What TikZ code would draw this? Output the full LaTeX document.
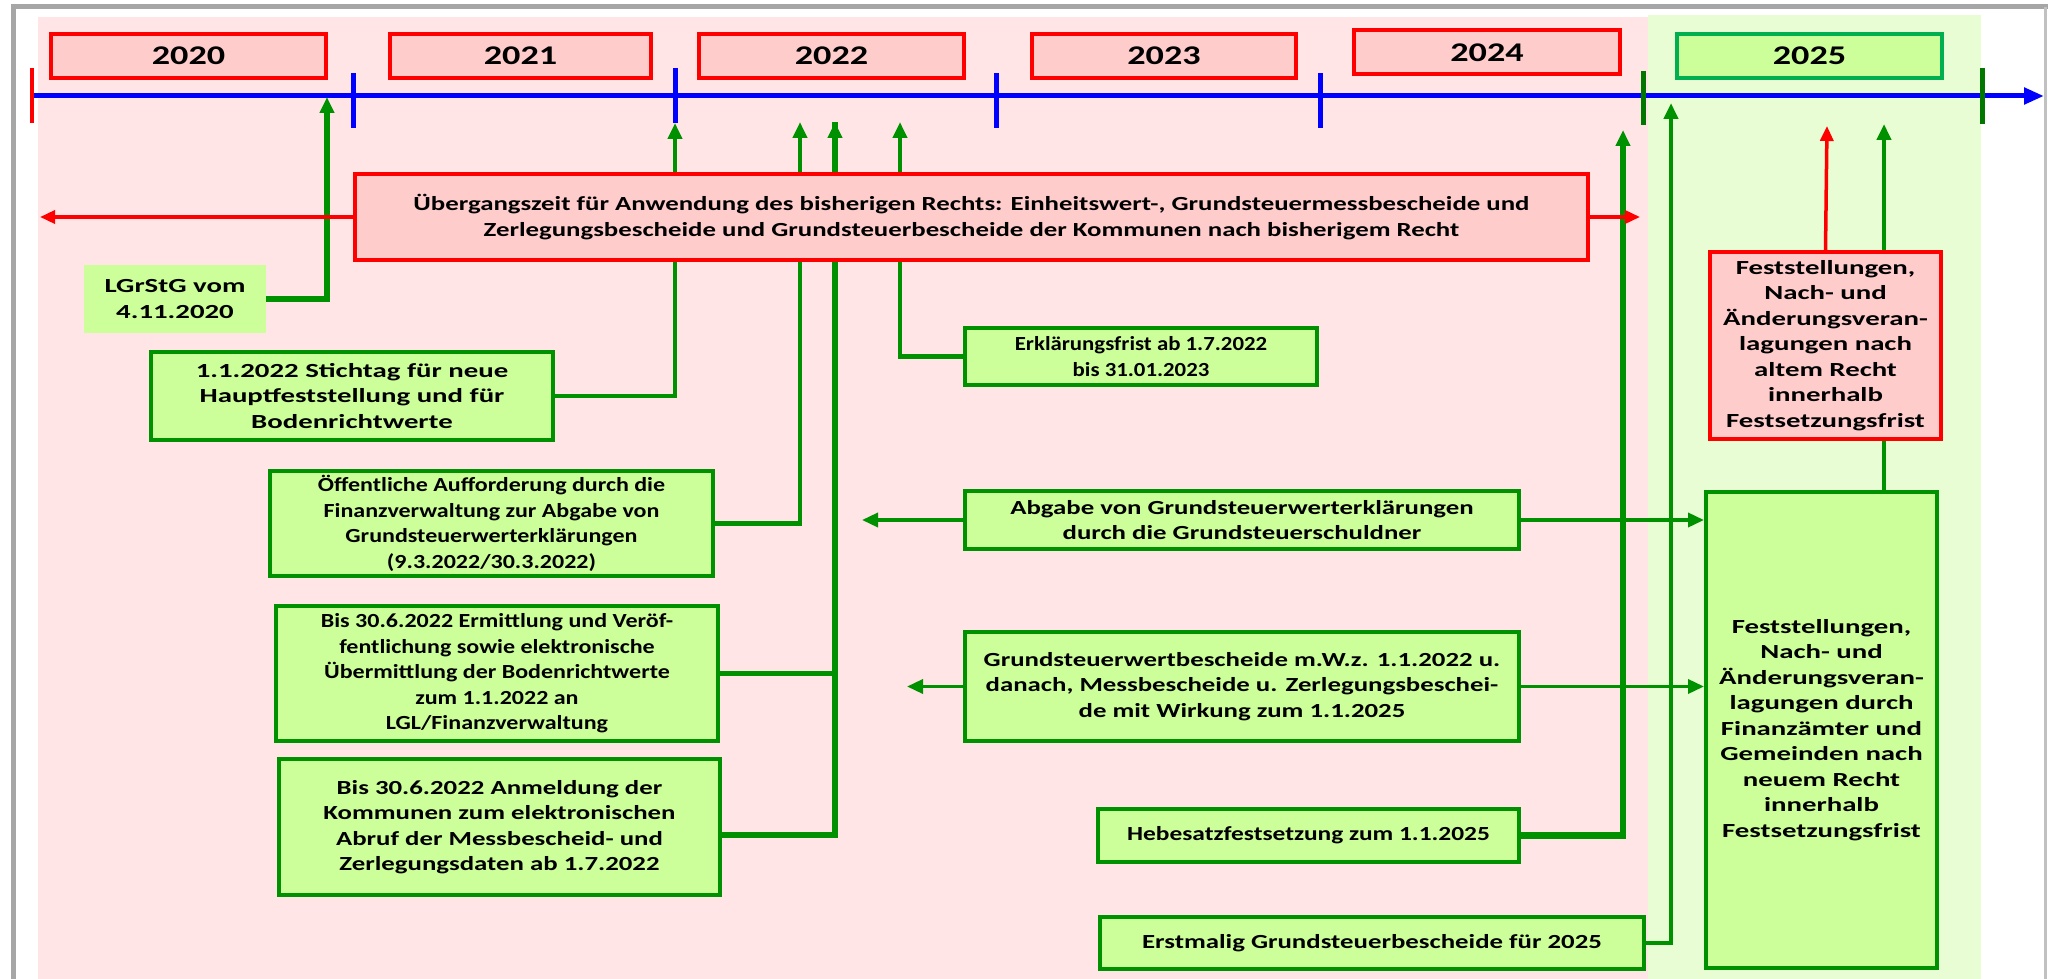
\documentclass[tikz,border=0pt]{standalone}
\usepackage{fontspec}
\setmainfont{Carlito}[FakeStretch=1.2]
\newfontfamily\fA{Carlito}[FakeStretch=1.14]
\newfontfamily\fB{Carlito}[FakeStretch=1.2]
\newfontfamily\fC{Carlito}[FakeStretch=1.34]
\newfontfamily\fD{Carlito}[FakeStretch=1.44]
\newfontfamily\fE{Carlito}[FakeStretch=1.27]
\usetikzlibrary{arrows.meta}
\definecolor{pinkbg}{RGB}{255,229,229}
\definecolor{greenbg}{RGB}{233,253,212}
\definecolor{pinkfill}{RGB}{255,204,204}
\definecolor{greenfill}{RGB}{204,255,153}
\definecolor{gline}{RGB}{0,145,0}
\definecolor{emerald}{RGB}{0,176,80}
\definecolor{dgreen}{RGB}{0,120,0}
\definecolor{framegray}{RGB}{166,166,166}
\pgfdeclarelayer{bg}
\pgfdeclarelayer{lines}
\pgfsetlayers{bg,lines,main}
\begin{document}
\begin{tikzpicture}[x=1pt,y=-1pt,
  every node/.style={font=\fB\bfseries\fontsize{20}{25.5}\selectfont, align=center, inner sep=0pt},
  fa/.style={font=\fA\bfseries\fontsize{20}{25.5}\selectfont},
  fb/.style={font=\fB\bfseries\fontsize{20}{25.5}\selectfont},
  fc/.style={font=\fC\bfseries\fontsize{20}{25.5}\selectfont},
  fd/.style={font=\fD\bfseries\fontsize{20}{25.5}\selectfont},
  fe/.style={font=\fE\bfseries\fontsize{20}{25.5}\selectfont},
  gbox/.style={draw=gline, line width=4pt, fill=greenfill},
  rbox/.style={draw=red, line width=4pt, fill=pinkfill},
  yearbox/.style={rbox, minimum height=44pt, font=\fC\bfseries\fontsize{27}{30}\selectfont},
  gconn/.style={draw=gline, line width=4.5pt, -{Triangle[length=16pt,width=14pt]}},
  gplain/.style={draw=gline, line width=4.5pt},
  rconn/.style={draw=red, line width=3.5pt, -{Triangle[length=15pt,width=13pt]}},
  tickb/.style={draw=blue, line width=5pt},
  tickg/.style={draw=dgreen, line width=5pt},
  tickr/.style={draw=red, line width=4pt},
]
\useasboundingbox (0,0) rectangle (2048,979);

% nodes
\node[yearbox, minimum width=275pt] (y2020) at (188.5,56) {2020};
\node[yearbox, minimum width=261pt] (y2021) at (520.5,56) {2021};
\node[yearbox, minimum width=265pt] (y2022) at (831.5,56) {2022};
\node[yearbox, minimum width=264pt] (y2023) at (1164,56) {2023};
\node[yearbox, minimum width=266pt] (y2024) at (1487,52.5) {2024};
\node[yearbox, draw=emerald, fill=greenfill, minimum width=265pt] (y2025) at (1809.5,56) {2025};

\node[rbox, fc, minimum width=1233pt, minimum height=86pt] (ueber) at (971.5,217)
  {Übergangszeit für Anwendung des bisherigen Rechts: Einheitswert-, Grundsteuermessbescheide und\\
   Zerlegungsbescheide und Grundsteuerbescheide der Kommunen nach bisherigem Recht};

\node[fill=greenfill, fd, minimum width=182pt, minimum height=68pt] (lgrstg) at (175,299)
  {LGrStG vom\\4.11.2020};
\node[gbox, fd, minimum width=402pt, minimum height=88pt] (stich) at (352,396)
  {1.1.2022 Stichtag für neue\\Hauptfeststellung und für\\Bodenrichtwerte};
\node[gbox, fb, minimum width=443pt, minimum height=105pt] (oeff) at (491.5,523.5)
  {Öffentliche Aufforderung durch die\\Finanzverwaltung zur Abgabe von\\Grundsteuerwerterklärungen\\(9.3.2022/30.3.2022)};
\node[gbox, fb, minimum width=442pt, minimum height=135pt] (ermitt) at (497,673.5)
  {Bis 30.6.2022 Ermittlung und Veröf-\\fentlichung sowie elektronische\\Übermittlung der Bodenrichtwerte\\zum 1.1.2022 an\\LGL/Finanzverwaltung};
\node[gbox, fc, minimum width=441pt, minimum height=136pt] (anmeld) at (499.5,827)
  {Bis 30.6.2022 Anmeldung der\\Kommunen zum elektronischen\\Abruf der Messbescheid- und\\Zerlegungsdaten ab 1.7.2022};
\node[gbox, fa, minimum width=352pt, minimum height=57pt] (erkl) at (1141,356.5)
  {Erklärungsfrist ab 1.7.2022\\bis 31.01.2023};
\node[gbox, fc, minimum width=554pt, minimum height=58pt] (abgabe) at (1242,520)
  {Abgabe von Grundsteuerwerterklärungen\\durch die Grundsteuerschuldner};
\node[gbox, fc, minimum width=554pt, minimum height=109pt] (gsw) at (1242,686.5)
  {Grundsteuerwertbescheide m.W.z. 1.1.2022 u.\\danach, Messbescheide u. Zerlegungsbeschei-\\de mit Wirkung zum 1.1.2025};
\node[gbox, fe, minimum width=421pt, minimum height=53pt] (hebe) at (1308.5,835.5)
  {Hebesatzfestsetzung zum 1.1.2025};
\node[gbox, fc, minimum width=544pt, minimum height=52pt] (erst) at (1372,943)
  {Erstmalig Grundsteuerbescheide für 2025};
\node[rbox, fd, minimum width=231pt, minimum height=187pt] (altr) at (1825.5,345.5)
  {Feststellungen,\\Nach- und\\Änderungsveran-\\lagungen nach\\altem Recht\\innerhalb\\Festsetzungsfrist};
\node[gbox, fd, minimum width=231pt, minimum height=476pt] (neur) at (1821.5,730)
  {Feststellungen,\\Nach- und\\Änderungsveran-\\lagungen durch\\Finanzämter und\\Gemeinden nach\\neuem Recht\\innerhalb\\Festsetzungsfrist};

% coordinates
\coordinate (tl0) at (32,96);
\coordinate (tl1) at (2044,96);
\coordinate (tA) at (327,97);
\coordinate (tB) at (675,123);
\coordinate (tC) at (800,122);
\coordinate (tD) at (835,122);
\coordinate (tE) at (900,122);
\coordinate (tF) at (1623,130);
\coordinate (tG) at (1671,103);
\coordinate (tH) at (1827,126);
\coordinate (tI) at (1884,124);
\coordinate (tL) at (40,217);
\coordinate (tR) at (1640,217);
\coordinate (tAL) at (862,520);
\coordinate (tGL) at (907,686.5);

\begin{pgfonlayer}{bg}
  \fill[pinkbg] (38,17) rectangle (1648,979);
  \fill[greenbg] (1648,15) rectangle (1981,979);
  \draw[framegray, line width=5pt] (13,979) -- (13,7) -- (2048,7);
  \draw[framegray!70, line width=3pt] (2045,7) -- (2045,979);
\end{pgfonlayer}

\begin{pgfonlayer}{lines}
  % timeline
  \draw[draw=blue, line width=5pt, -{Triangle[length=20pt,width=16pt]}] (tl0) -- (tl1);
  \draw[tickr] (32,68) -- (32,123);
  \draw[tickb] (353,73) -- (353,128);
  \draw[tickb] (675,68) -- (675,123);
  \draw[tickb] (996,73) -- (996,128);
  \draw[tickb] (1320,73) -- (1320,128);
  \draw[tickg] (1643,71) -- (1643,125);
  \draw[tickg] (1982,68) -- (1982,124);
  % connectors
  \draw[gconn, line width=6pt] (lgrstg.east) -| (tA);
  \draw[gconn] (stich.east) -| (tB);
  \draw[gconn] (oeff.east) -| (tC);
  \draw[gconn] (ermitt.east) -| (tD);
  \draw[gplain, line width=6.5pt] ([yshift=-8pt]anmeld.east) -| (tD);
  \draw[gconn] (erkl.west) -| (tE);
  \draw[gconn, line width=6.5pt] (hebe.east) -| (tF);
  \draw[gconn] (erst.east) -| (tG);
  \draw[rconn] (altr.north) -- (tH);
  \draw[gconn] (neur.north -| tI) -- (tI);
  \draw[gconn, line width=3.5pt] (abgabe.east) -- (abgabe.east -| neur.west);
  \draw[gconn, line width=3.5pt] (gsw.east) -- (gsw.east -| neur.west);
  \draw[gconn, line width=3.5pt] (abgabe.west) -- (tAL);
  \draw[gconn, line width=3.5pt] (gsw.west) -- (tGL);
  \draw[rconn] (ueber.west) -- (tL);
  \draw[rconn] (ueber.east) -- (tR);
\end{pgfonlayer}
\end{tikzpicture}
\end{document}
